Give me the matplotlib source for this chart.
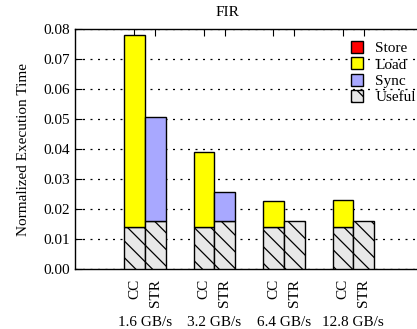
import matplotlib
matplotlib.use("Agg")
import matplotlib.pyplot as plt
from matplotlib.patches import Patch
import numpy as np

plt.rcParams['font.family'] = ['Liberation Serif', 'DejaVu Serif']
plt.rcParams['hatch.linewidth'] = 0.9

groups = ["1.6 GB/s", "3.2 GB/s", "6.4 GB/s", "12.8 GB/s"]
configs = ["CC", "STR"]
# [group][config]
useful = np.array([[0.0139, 0.0161], [0.0139, 0.0161], [0.0139, 0.0161], [0.0139, 0.0161]])
sync = np.array([[0.0, 0.0344], [0.0, 0.0094], [0.0, 0.0], [0.0, 0.0]])
load = np.array([[0.0642, 0.0], [0.0252, 0.0], [0.0088, 0.0], [0.0091, 0.0]])
store = np.array([[0.0, 0.0], [0.0, 0.0], [0.0, 0.0], [0.0, 0.0]])

FS = 11

fig = plt.figure(figsize=(4.17, 3.29), dpi=100)
ax = fig.add_axes([75.3 / 417, 1 - 269 / 329, 347.5 / 417, 240 / 329])

width = 0.298
offsets = [-0.149, 0.149]
xs = []
labels = []
for gi in range(len(groups)):
    for ci in range(len(configs)):
        x = gi + 1 + offsets[ci]
        xs.append(x)
        labels.append(configs[ci])
        b = 0
        ax.bar(x, useful[gi, ci], width, bottom=b, facecolor='#e8e8e8', edgecolor='black',
               hatch='\\\\', linewidth=1.0, zorder=3)
        b += useful[gi, ci]
        if sync[gi, ci] > 0:
            ax.bar(x, sync[gi, ci], width, bottom=b, facecolor='#a8a8ff', edgecolor='black',
                   linewidth=1.0, zorder=3)
            b += sync[gi, ci]
        if load[gi, ci] > 0:
            ax.bar(x, load[gi, ci], width, bottom=b, facecolor='#ffff00', edgecolor='black',
                   linewidth=1.0, zorder=3)
            b += load[gi, ci]
        if store[gi, ci] > 0:
            ax.bar(x, store[gi, ci], width, bottom=b, facecolor='#ff0000', edgecolor='black',
                   linewidth=1.0, zorder=3)

ax.set_xlim(0, 5)
ax.set_ylim(0, 0.08)
ax.set_yticks(np.arange(0, 0.081, 0.01))
ax.set_yticklabels([f"{v:.2f}" for v in np.arange(0, 0.081, 0.01)], fontsize=FS)
ax.set_xticks(xs)
ax.set_xticklabels(labels, rotation=90, fontsize=FS)
ax.tick_params(axis='x', direction='in', top=True, bottom=True, length=5, pad=7)
ax.tick_params(axis='y', direction='in', left=True, right=False, length=5, pad=4)
ax.spines['right'].set_visible(False)
for s in ['left', 'top', 'bottom']:
    ax.spines[s].set_linewidth(1.0)

ax.yaxis.grid(True, linestyle=(0, (1.6, 4.4)), color='black', linewidth=0.9, zorder=0)
ax.set_axisbelow(True)

for gi, g in enumerate(groups):
    ax.text(gi + 1, -0.0178, g, ha='center', va='center', fontsize=FS,
            transform=ax.transData)

fig.text(24 / 417, 1 - 150 / 329, "Normalized Execution Time", rotation=90,
         ha='center', va='center', fontsize=FS)
fig.text(227 / 417, 1 - 12 / 329, "FIR", ha='center', va='center', fontsize=FS)

handles = [
    Patch(facecolor='#ff0000', edgecolor='black', label='Store'),
    Patch(facecolor='#ffff00', edgecolor='black', label='Load'),
    Patch(facecolor='#a8a8ff', edgecolor='black', label='Sync'),
    Patch(facecolor='#e8e8e8', edgecolor='black', hatch='\\\\', label='Useful'),
]
leg = ax.legend(handles=handles, loc='upper left', bbox_to_anchor=(351 / 417, 1 - 41 / 329),
                bbox_transform=fig.transFigure, frameon=False, fontsize=FS,
                handlelength=0.8, handleheight=0.8, handletextpad=0.8, labelspacing=0.15,
                borderpad=0, borderaxespad=0)

fig.savefig("out.png", dpi=100)
